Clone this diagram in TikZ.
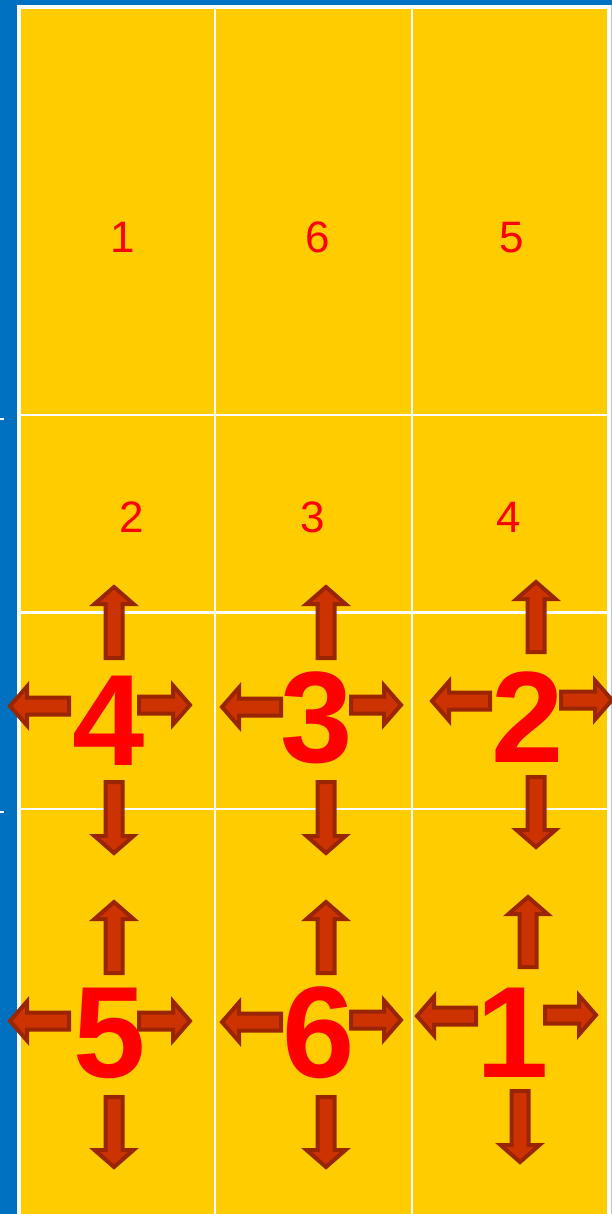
\documentclass[tikz,border=0pt]{standalone}
\usepackage{fontspec}
\setmainfont{Liberation Sans}
\definecolor{courtblue}{HTML}{0070C0}
\definecolor{courtyellow}{HTML}{FFCC00}
\definecolor{arrfill}{HTML}{CC3300}
\definecolor{arrdraw}{HTML}{992600}
\tikzset{
  arrowbody/.style={fill=arrfill, draw=arrdraw, line width=4pt, line join=miter},
  pics/barrow/.style={code={
    \draw[arrowbody] (2,-8.5) -- ({#1-20},-8.5) -- ({#1-20},-19.5) -- ({#1-3},0)
      -- ({#1-20},19.5) -- ({#1-20},8.5) -- (2,8.5) -- cycle;
  }},
  bignum/.style={text=red, font=\fontsize{130}{130}\selectfont\bfseries, inner sep=0pt, anchor=base},
  smallnum/.style={text=red, font=\fontsize{44}{44}\selectfont, inner sep=0pt, anchor=base},
  gridline/.style={draw=white, line width=2pt}
}
\begin{document}
\begin{tikzpicture}[x=1pt,y=-1pt]
\useasboundingbox (0,0) rectangle (612,1214);
% background
\fill[courtblue] (0,0) rectangle (612,1214);
\fill[courtblue!35] (610.5,5) rectangle (612,1214);
\fill[white] (17,5) rectangle (610.5,1214);
\fill[courtyellow] (21,9) rectangle (607,1214);
% grid
\draw[gridline] (215,9) -- (215,1214);
\draw[gridline] (412,9) -- (412,1214);
\draw[gridline] (21,414.5) -- (607,414.5);
\draw[gridline, line width=3pt] (21,612) -- (607,612);
\draw[gridline] (21,808.5) -- (607,808.5);
\draw[white, line width=1.5pt] (0,419) -- (3.5,419);
\draw[white, line width=1.5pt] (0,812) -- (3.5,812);
% small numbers
\node[smallnum] (s1) at (123,253) {1};
\node[smallnum] (s6) at (318,253) {6};
\node[smallnum] (s5) at (512,253) {5};
\node[smallnum] (s2) at (132,532) {2};
\node[smallnum] (s3) at (313,532) {3};
\node[smallnum] (s4) at (509,532) {4};
% group 4
\pic[rotate=90] at (114,660) {barrow=76};
\pic[rotate=-90] at (114,780) {barrow=76};
\pic[rotate=180] at (71,706) {barrow=64};
\pic at (137,705) {barrow=56};
% group 3
\pic[rotate=90] at (326,660) {barrow=76};
\pic[rotate=-90] at (326,780) {barrow=76};
\pic[rotate=180] at (283,707) {barrow=64};
\pic at (349,705) {barrow=55};
% group 2
\pic[rotate=90] at (536,654) {barrow=75};
\pic[rotate=-90] at (536,775) {barrow=75};
\pic[rotate=180] at (492,701) {barrow=63};
\pic at (559,700) {barrow=56};
% group 5
\pic[rotate=90] at (114,975) {barrow=76};
\pic[rotate=-90] at (114,1095) {barrow=75};
\pic[rotate=180] at (71,1021) {barrow=64};
\pic at (137,1021) {barrow=56};
% group 6
\pic[rotate=90] at (326,975) {barrow=76};
\pic[rotate=-90] at (326,1095) {barrow=75};
\pic[rotate=180] at (283,1022) {barrow=64};
\pic at (349,1020) {barrow=55};
% group 1
\pic[rotate=90] at (528,969) {barrow=75};
\pic[rotate=-90] at (520,1089) {barrow=76};
\pic[rotate=180] at (478,1016) {barrow=64};
\pic at (543,1015) {barrow=56};
% big numbers
\node[bignum] (b4) at (109,765) {4};
\node[bignum] (b3) at (317,762) {3};
\node[bignum] (b2) at (527.5,762) {2};
\node[bignum] (b5) at (110,1077) {5};
\node[bignum] (b6) at (318.5,1077) {6};
\node[bignum] (b1) at (513,1077) {1};
\end{tikzpicture}
\end{document}
